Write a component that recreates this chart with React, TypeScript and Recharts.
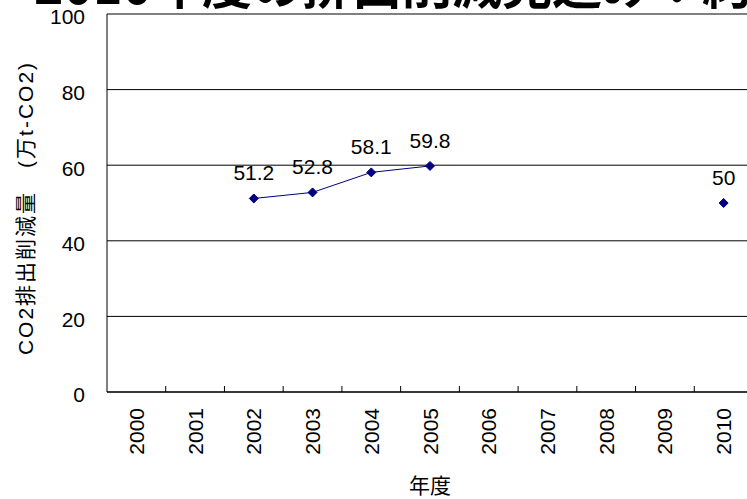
import { LineChart, Line, XAxis, YAxis, CartesianGrid, LabelList, ReferenceLine, Label } from "recharts";

const years = ["2000", "2001", "2002", "2003", "2004", "2005", "2006", "2007", "2008", "2009", "2010"];
const reductions: (number | null)[] = [null, null, 51.2, 52.8, 58.1, 59.8, null, null, null, null, 50];
const yTicks = [0, 20, 40, 60, 80, 100];
const titleText = "2010年度の排出削減見込み：約50万t-CO2";
const yTitle = "CO2排出削減量　(万t-CO2)";
const xTitle = "年度";

const chartData = years.map((year, i) => ({ year, value: reductions[i] }));

const FONT = "'Liberation Sans', Arial, 'Noto Sans CJK JP', sans-serif";
const NAVY = "#000080";

const YearTick = (props: any) => {
  const { x, y, payload } = props;
  const half = payload?.offset ?? 29.3;
  return (
    <g>
      <line x1={x + half} x2={x + half} y1={y} y2={y - 6} stroke="#000" strokeWidth={1} />
      <text
        transform={`translate(${x},${y + 16}) rotate(-90)`}
        textAnchor="end"
        dy="0.36em"
        fontSize={21}
        fontFamily={FONT}
        fill="#000"
      >
        {payload.value}
      </text>
    </g>
  );
};

const Diamond = (props: any) => {
  const { cx, cy, value, index } = props;
  if (value == null || cx == null || cy == null) return <g key={`d-${index}`} />;
  const r = 4.5;
  return (
    <polygon
      key={`d-${index}`}
      points={`${cx},${cy - r} ${cx + r},${cy} ${cx},${cy + r} ${cx - r},${cy}`}
      fill={NAVY}
      stroke={NAVY}
    />
  );
};

export default function App() {
  return (
    <div style={{ position: "absolute", left: 0, top: 0, width: 747, height: 499, overflow: "hidden", background: "#fff" }}>
      <LineChart
        width={753}
        height={499}
        data={chartData}
        margin={{ top: 14, right: 0, left: 47, bottom: 0 }}
        style={{ position: "absolute", left: 0, top: 0 }}
      >
        <CartesianGrid horizontal vertical={false} stroke="#000" strokeWidth={1} />
        <XAxis
          dataKey="year"
          scale="band"
          height={107}
          interval={0}
          tickLine={false}
          tickSize={0}
          tickMargin={0}
          axisLine={{ stroke: "#222", strokeWidth: 1.5 }}
          tick={<YearTick />}
        >
          <Label value={xTitle} position="insideBottom" offset={6} fontSize={21} fontFamily={FONT} fill="#000" />
        </XAxis>
        <YAxis
          width={60}
          domain={[0, 100]}
          ticks={yTicks}
          interval={0}
          tickLine={false}
          tickSize={0}
          tickMargin={22}
          axisLine={{ stroke: "#000", strokeWidth: 1 }}
          tick={{ fontSize: 21, fontFamily: FONT, fill: "#000", dy: 3 }}
        />
        <ReferenceLine y={100} stroke="#808080" strokeWidth={2} />
        <Line
          type="linear"
          dataKey="value"
          stroke={NAVY}
          strokeWidth={1}
          dot={<Diamond />}
          activeDot={false}
          isAnimationActive={false}
        >
          <LabelList dataKey="value" position="top" offset={18} fontSize={21} fontFamily={FONT} fill="#000" />
        </Line>
        <text
          transform="translate(25,208) rotate(-90)"
          textAnchor="middle"
          dy="0.36em"
          fontSize={21}
          letterSpacing={2}
          fontFamily={FONT}
          fill="#000"
        >
          {yTitle}
        </text>
      </LineChart>
      <svg width={747} height={20} style={{ position: "absolute", left: 0, top: 0 }}>
        <text x={34} y={4} fontSize={50} fontWeight="bold" fontFamily="'Noto Sans CJK JP', sans-serif" fill="#000">
          {titleText}
        </text>
      </svg>
    </div>
  );
}
